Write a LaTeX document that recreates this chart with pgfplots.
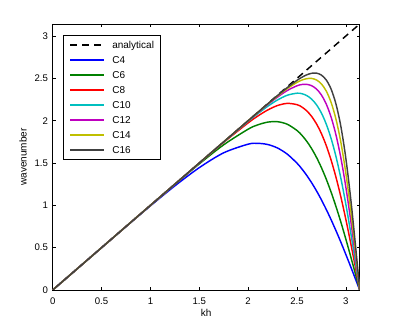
\documentclass[border=0pt]{standalone}
\usepackage{fontspec}
\setmainfont{Liberation Sans}
\usepackage{pgfplots}
\pgfplotsset{compat=1.18}
\definecolor{mgreen}{rgb}{0,0.5,0}
\definecolor{mcyan}{rgb}{0,0.75,0.75}
\definecolor{mmag}{rgb}{0.75,0,0.75}
\definecolor{myel}{rgb}{0.75,0.75,0}
\definecolor{mgray}{rgb}{0.25,0.25,0.25}
\begin{document}
\begin{tikzpicture}
\useasboundingbox (-52.7pt,-37pt) rectangle (344.3pt,290pt);
\begin{axis}[
  scale only axis, width=307pt, height=266pt,
  at={(0pt,0pt)}, anchor=south west,
  xmin=0, xmax=3.14159, ymin=0, ymax=3.14159,
  xtick={0,0.5,1,1.5,2,2.5,3}, ytick={0,0.5,1,1.5,2,2.5,3},
  tick align=inside, xtick pos=both, ytick pos=both, major tick length=3pt,
  /pgf/number format/assume math mode=true,
  tick label style={font=\fontsize{9.6}{11}\selectfont},
  xticklabel style={yshift=-4pt},
  yticklabel style={xshift=-1.2pt},
  xlabel={kh}, ylabel={wavenumber},
  label style={font=\fontsize{9.8}{11}\selectfont},
  every axis x label/.style={at={(axis description cs:0.5,0)}, yshift=-23pt, anchor=center},
  every axis y label/.style={at={(axis description cs:0,0.5)}, xshift=-29.7pt, rotate=90, anchor=center},
  axis line style={line width=0.5pt},
  every tick/.style={black, line width=0.5pt},
  legend cell align=left,
  legend image code/.code={\draw[#1, line width=1.8pt] (0pt,0pt) -- (34pt,0pt);},
  legend style={at={(axis description cs:0.0326,0.9586)}, anchor=north west, draw=black, fill=white, inner xsep=6.6pt, inner ysep=5.8pt, row sep=7.5pt, font=\fontsize{10}{11}\selectfont, nodes={inner sep=0pt, text height=7pt, text depth=0.5pt}},
  every axis plot/.append style={line width=1.45pt},
]
\addplot[black, dash pattern=on 7pt off 5pt] coordinates {(0,0) (3.14159,3.14159)};
\addlegendentry{\hspace*{7pt}analytical}
\addplot[blue, smooth] coordinates {
(0,0) (0.5,0.4998) (0.75,0.7486) (1.0,0.9937) (1.25,1.2296) (1.5,1.4451) (1.75,1.6204)
(2.0,1.7223) (2.1,1.7320) (2.2,1.7184) (2.3,1.6773) (2.4,1.6049) (2.5,1.4976) (2.55,1.4300)
(2.6,1.3529) (2.65,1.2662) (2.7,1.1699) (2.75,1.0644) (2.8,0.9501) (2.85,0.8275) (2.9,0.6975)
(2.95,0.5614) (3.0,0.4192) (3.05,0.2733) (3.1,0.1246) (3.14159,0)};
\addlegendentry{\hspace*{7pt}C4}
\addplot[mgreen, smooth] coordinates {
(0,0) (0.5,0.5) (1.0,0.9995) (1.25,1.2473) (1.5,1.4893) (1.75,1.7149) (2.0,1.8994) (2.1,1.9510)
(2.2,1.9827) (2.3,1.9877) (2.4,1.9579) (2.5,1.8838) (2.55,1.8272) (2.6,1.7559) (2.65,1.6689)
(2.7,1.5653) (2.75,1.4448) (2.8,1.3070) (2.85,1.1525) (2.9,0.9820) (2.95,0.7977) (3.0,0.6000)
(3.05,0.3932) (3.1,0.1799) (3.14159,0)};
\addlegendentry{\hspace*{7pt}C6}
\addplot[red, smooth] coordinates {
(0,0) (0.5,0.5) (1.0,1.0) (1.25,1.2498) (1.5,1.4986) (1.75,1.7435) (2.0,1.9737) (2.1,2.0554)
(2.2,2.1259) (2.3,2.1785) (2.4,2.2040) (2.5,2.1890) (2.55,2.1609) (2.6,2.1154) (2.65,2.0498)
(2.7,1.9611) (2.75,1.8465) (2.8,1.7034) (2.85,1.5303) (2.9,1.3265) (2.95,1.0939) (3.0,0.8329)
(3.05,0.5508) (3.1,0.2533) (3.14159,0)};
\addlegendentry{\hspace*{7pt}C8}
\addplot[mcyan, smooth] coordinates {
(0,0) (0.5,0.5) (1.0,1.0) (1.5,1.4998) (1.75,1.7484) (2.0,1.9913) (2.1,2.0835) (2.2,2.1694)
(2.3,2.2443) (2.4,2.3002) (2.5,2.3242) (2.55,2.3184) (2.6,2.2962) (2.65,2.2538) (2.7,2.1865)
(2.75,2.0894) (2.8,1.9573) (2.85,1.7856) (2.9,1.5709) (2.95,1.3130) (3.0,1.0113) (3.05,0.6745)
(3.1,0.3119) (3.14159,0)};
\addlegendentry{\hspace*{7pt}C10}
\addplot[mmag, smooth] coordinates {
(0,0) (0.5,0.5) (1.0,1.0) (1.5,1.5) (1.75,1.7495) (2.0,1.9976) (2.1,2.0948) (2.2,2.1893)
(2.3,2.2781) (2.4,2.3557) (2.5,2.4121) (2.55,2.4270) (2.6,2.4287) (2.65,2.4126) (2.7,2.3730)
(2.75,2.3030) (2.8,2.1942) (2.85,2.0380) (2.9,1.8258) (2.95,1.5527) (3.0,1.2144) (3.05,0.8197)
(3.1,0.3818) (3.14159,0)};
\addlegendentry{\hspace*{7pt}C12}
\addplot[myel, smooth] coordinates {
(0,0) (0.5,0.5) (1.0,1.0) (1.5,1.5) (1.75,1.7499) (2.0,1.9993) (2.1,2.0982) (2.2,2.1957)
(2.3,2.2903) (2.4,2.3781) (2.5,2.4519) (2.55,2.4792) (2.6,2.4961) (2.65,2.4985) (2.7,2.4801)
(2.75,2.4335) (2.8,2.3481) (2.85,2.2121) (2.9,2.0121) (2.95,1.7373) (3.0,1.3782) (3.05,0.9409)
(3.1,0.4413) (3.14159,0)};
\addlegendentry{\hspace*{7pt}C14}
\addplot[mgray, smooth] coordinates {
(0,0) (0.5,0.5) (1.0,1.0) (1.5,1.5) (1.75,1.75) (2.0,1.9998) (2.1,2.0994) (2.2,2.1985)
(2.3,2.2962) (2.4,2.3902) (2.5,2.4759) (2.55,2.5124) (2.6,2.5415) (2.65,2.5597) (2.7,2.5612)
(2.75,2.5382) (2.8,2.4792) (2.85,2.3699) (2.9,2.1909) (2.95,1.9249) (3.0,1.5530) (3.05,1.0753)
(3.1,0.5090) (3.14159,0)};
\addlegendentry{\hspace*{7pt}C16}
\end{axis}
\end{tikzpicture}
\end{document}
